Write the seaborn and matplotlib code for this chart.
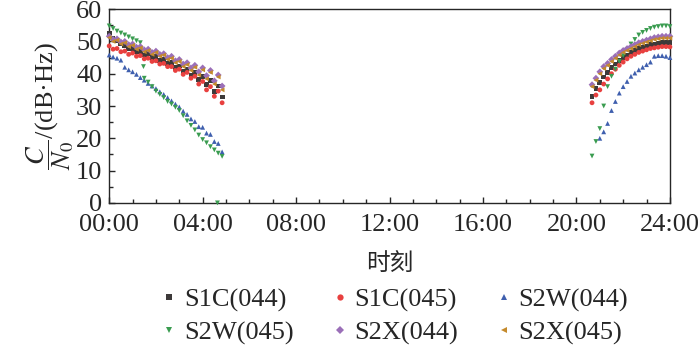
import numpy as np
import pandas as pd
import matplotlib
matplotlib.use("Agg")
import matplotlib.pyplot as plt
from matplotlib.lines import Line2D
from matplotlib.ticker import MultipleLocator, FixedLocator
import seaborn as sns

# 时间点（每 10 分钟）
am_times = ["00:00", "00:10", "00:20", "00:30", "00:40", "00:50",
            "01:00", "01:10", "01:20", "01:30", "01:40", "01:50",
            "02:00", "02:10", "02:20", "02:30", "02:40", "02:50",
            "03:00", "03:10", "03:20", "03:30", "03:40", "03:50",
            "04:00", "04:10", "04:20", "04:30", "04:40", "04:50"]
pm_times = ["20:40", "20:50", "21:00", "21:10", "21:20", "21:30", "21:40",
            "21:50", "22:00", "22:10", "22:20", "22:30", "22:40", "22:50",
            "23:00", "23:10", "23:20", "23:30", "23:40", "23:50", "24:00"]

# 载噪比 C/N0 (dB·Hz)
s1c044_am = [52.6, 50.8, 50.4, 49.2, 48.8, 47.8, 47.8, 46.8, 47.0, 45.8,
             46.2, 45.0, 45.4, 44.2, 44.4, 43.2, 43.4, 42.0, 42.4, 40.8,
             41.4, 39.6, 40.4, 38.2, 39.2, 36.6, 37.8, 34.6, 36.2, 32.8]
s1c045_am = [48.6, 47.6, 47.8, 46.8, 47.0, 46.0, 46.4, 45.4, 45.6, 44.6,
             44.8, 43.8, 44.0, 43.0, 43.2, 42.2, 42.2, 41.0, 41.4, 39.8,
             40.4, 38.6, 39.2, 36.8, 37.6, 35.0, 36.0, 33.0, 34.6, 31.0]
s2w044_am = [45.8, 45.2, 44.8, 44.2, 42.0, 41.2, 40.6, 39.8, 38.8, 38.0,
             37.0, 36.2, 35.4, 34.4, 33.6, 32.6, 31.6, 30.6, 29.7, 28.4,
             27.4, 26.0, 25.2, 23.6, 23.4, 21.6, 21.2, 19.0, 18.4, 15.8]
s2w045_am = [54.8, 54.0, 53.2, 52.6, 52.0, 51.4, 50.8, 50.2, 49.6, 38.6,
             37.4, 36.0, 34.6, 33.6, 32.6, 31.4, 30.6, 29.6, 28.6, 27.0,
             25.4, 24.0, 22.6, 21.0, 19.6, 18.6, 17.4, 16.4, 15.4, 14.4]
s2x044_am = [51.6, 50.6, 50.8, 49.8, 50.0, 49.0, 49.2, 48.2, 48.4, 47.4,
             47.6, 46.6, 47.0, 46.0, 46.2, 45.0, 45.4, 44.0, 44.4, 43.0,
             43.4, 41.8, 42.6, 40.6, 41.8, 39.4, 41.0, 37.8, 39.6, 36.2]
s2x045_am = [51.2, 50.0, 50.4, 49.2, 49.6, 48.4, 48.8, 47.6, 48.0, 46.8,
             47.2, 46.0, 46.6, 45.4, 45.8, 44.4, 44.8, 43.4, 43.8, 42.2,
             42.8, 41.0, 42.0, 39.6, 41.2, 38.4, 40.4, 36.8, 39.0, 35.0]

s1c044_pm = [33.0, 35.4, 37.4, 39.0, 40.4, 41.8, 43.0, 44.0, 45.0, 45.8,
             46.6, 47.2, 47.8, 48.2, 48.6, 49.0, 49.2, 49.4, 49.6, 49.6, 49.6]
s1c045_pm = [31.0, 33.4, 35.0, 36.8, 38.4, 40.0, 41.4, 42.6, 43.6, 44.6,
             45.4, 46.0, 46.6, 47.0, 47.4, 47.8, 48.0, 48.2, 48.4, 48.4, 48.3]
s2w044_pm = [np.nan, np.nan, 20.0, 22.0, 24.6, 28.6, 31.4, 34.0, 36.0, 37.6,
             39.2, 40.2, 41.2, 42.0, 42.8, 43.6, 45.4, 45.6, 45.6, 45.4, 45.0]
s2w045_pm = [14.5, 19.0, 23.0, 30.0, 36.0, 39.2, 41.4, 43.8, 45.6, 47.4,
             49.2, 50.6, 52.0, 52.8, 53.4, 54.0, 54.4, 54.6, 54.8, 54.8, 54.6]
s2x044_pm = [36.6, 38.6, 40.6, 42.2, 43.2, 44.4, 45.4, 46.4, 47.2, 47.8,
             48.4, 49.0, 49.6, 50.0, 50.4, 50.8, 51.2, 51.4, 51.6, 51.6, 51.6]
s2x045_pm = [36.0, 38.0, 40.0, 41.6, 42.6, 43.8, 44.8, 45.8, 46.6, 47.2,
             47.8, 48.4, 49.0, 49.4, 49.8, 50.2, 50.6, 50.8, 51.0, 51.0, 51.0]

# 零散点
stray_times = ["01:28", "04:38"]
stray_series = ["S2W(045)", "S2W(045)"]
stray_values = [42.2, 0.0]

labels = ["S1C(044)", "S1C(045)", "S2W(044)", "S2W(045)", "S2X(044)", "S2X(045)"]
am_vals = [s1c044_am, s1c045_am, s2w044_am, s2w045_am, s2x044_am, s2x045_am]
pm_vals = [s1c044_pm, s1c045_pm, s2w044_pm, s2w045_pm, s2x044_pm, s2x045_pm]

colors = ["#3d3a3a", "#e8403f", "#3f5fae", "#3a9c50", "#9b6fb8", "#c48a2c"]
markers = ["s", "o", "^", "v", "D", "<"]


def to_hours(t):
    h, m = t.split(":")
    return int(h) + int(m) / 60


rows = []
for lab, a, p in zip(labels, am_vals, pm_vals):
    for t, v in zip(am_times, a):
        rows.append((lab, to_hours(t), v))
    for t, v in zip(pm_times, p):
        rows.append((lab, to_hours(t), v))
for t, lab, v in zip(stray_times, stray_series, stray_values):
    rows.append((lab, to_hours(t), v))
df = pd.DataFrame(rows, columns=["series", "hour", "cn0"]).dropna()

sns.set_style("ticks")
plt.rcParams["font.family"] = ["Liberation Serif", "Noto Sans CJK SC"]
plt.rcParams["mathtext.fontset"] = "stix"

fig = plt.figure(figsize=(7, 3.51), dpi=100)
ax = fig.add_axes([0.156, 0.422, 0.801, 0.552])

sns.scatterplot(data=df, x="hour", y="cn0", hue="series", style="series",
                hue_order=labels, style_order=labels,
                palette=dict(zip(labels, colors)),
                markers=dict(zip(labels, markers)),
                s=12, linewidth=0, ax=ax, clip_on=False, zorder=3, legend=False)

ax.set_xlim(0, 24)
ax.set_ylim(0, 60)
ax.xaxis.set_major_locator(FixedLocator([0, 4, 8, 12, 16, 20, 24]))
ax.set_xticklabels(["00:00", "04:00", "08:00", "12:00", "16:00", "20:00", "24:00"])
ax.xaxis.set_minor_locator(MultipleLocator(1))
ax.yaxis.set_major_locator(MultipleLocator(10))
ax.yaxis.set_minor_locator(MultipleLocator(5))
ax.tick_params(which="both", direction="in", labelsize=19, width=1)
ax.tick_params(axis="x", pad=8)
ax.tick_params(axis="y", pad=5)
ax.tick_params(which="major", length=4)
ax.tick_params(which="minor", length=3)
for sp in ax.spines.values():
    sp.set_linewidth(1)
    sp.set_visible(True)

ax.set_xlabel("时刻", fontsize=17, family=["Noto Sans CJK SC"], labelpad=12)
ax.set_ylabel(r"$\dfrac{C}{N_0}$/(dB·Hz)", fontsize=19, labelpad=0)

handles = [Line2D([], [], linestyle="none", marker=m, color=c, markersize=4.5,
                  markeredgewidth=0) for m, c in zip(markers, colors)]
order = [0, 3, 1, 4, 2, 5]
fig.legend([handles[i] for i in order], [labels[i] for i in order], ncol=3,
           loc="center", bbox_to_anchor=(0.564, 0.098),
           frameon=False, fontsize=19, handletextpad=0.25,
           columnspacing=1.45, labelspacing=0.35, handlelength=0.6)

fig.savefig("out.png", dpi=100)
